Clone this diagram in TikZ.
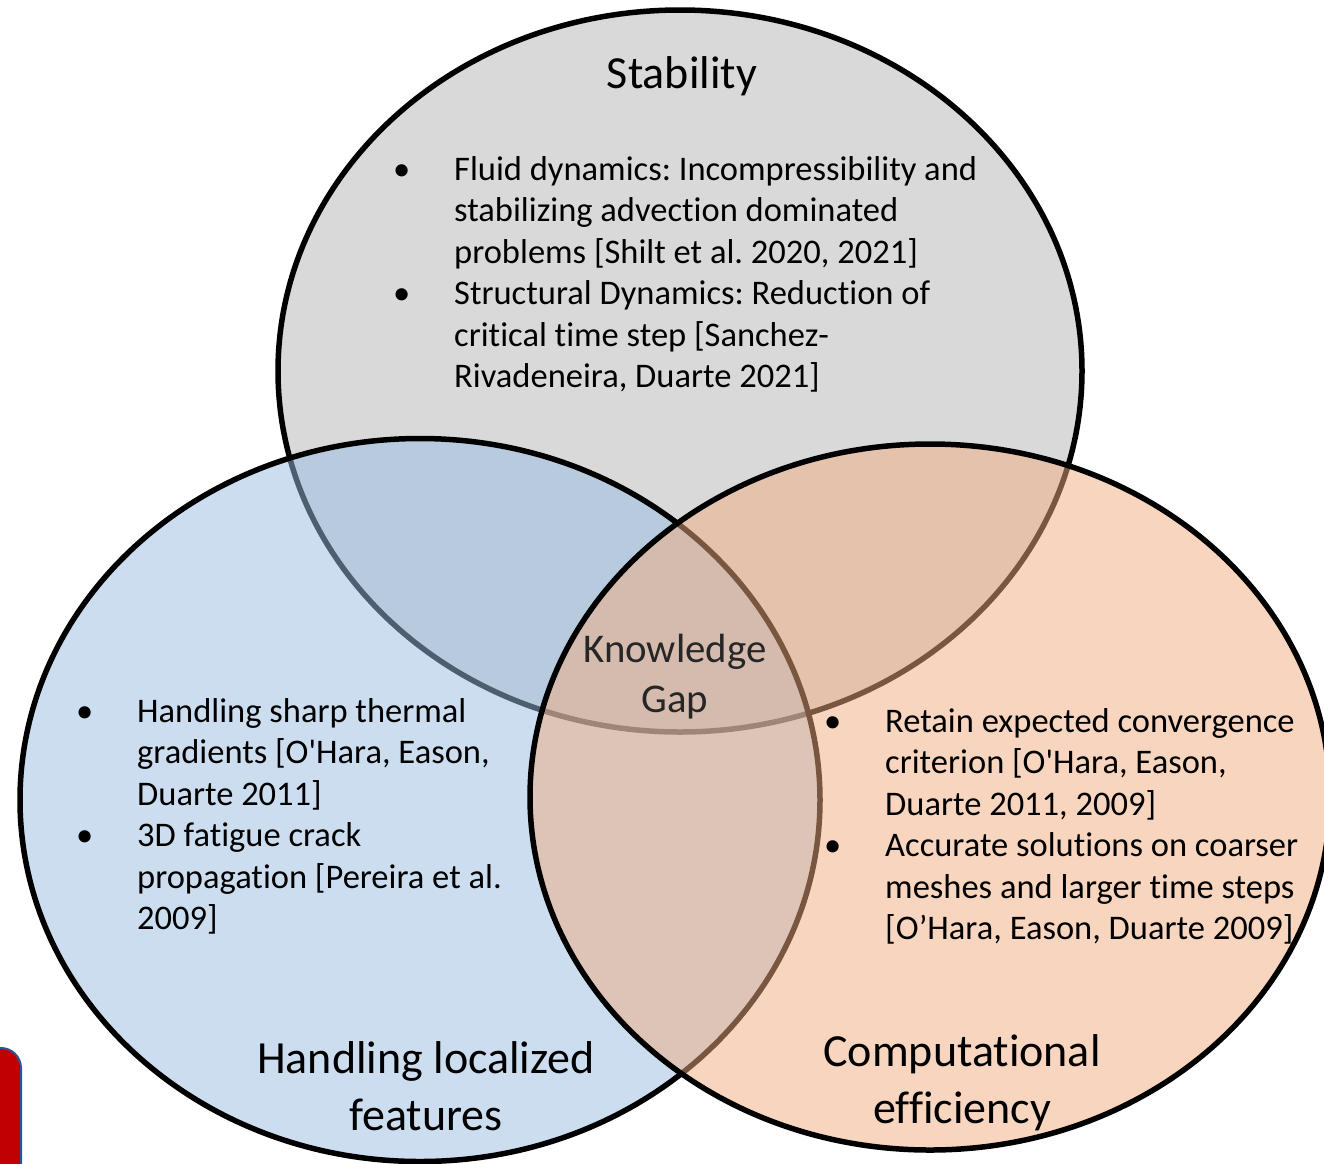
\documentclass[tikz,border=0pt]{standalone}
\usepackage{fontspec}
\setmainfont{Carlito}[Ligatures={TeXOff,NoCommon}]
\usetikzlibrary{shapes.geometric}
\definecolor{greyfill}{HTML}{D9D9D9}
\definecolor{bluefill}{RGB}{153,189,225}
\definecolor{orangefill}{RGB}{241,173,129}
\definecolor{redbox}{HTML}{C00000}
\definecolor{redborder}{HTML}{2F5597}
\frenchspacing
\begin{document}
\begin{tikzpicture}[x=1pt,y=-1pt,
  circ/.style={ellipse, draw=black, line width=5.5pt, inner sep=0pt, outer sep=0pt},
  body/.style={anchor=base west, inner sep=0pt, font=\fontsize{34.5}{41.5}\selectfont},
  title/.style={anchor=base, inner sep=0pt, font=\fontsize{46}{57}\selectfont},
  gap/.style={anchor=base, inner sep=0pt, text=black!85, font=\fontsize{40.8}{50}\selectfont},
]
\useasboundingbox (0,0) rectangle (1324,1163);
\clip (0,0) rectangle (1324,1163);
\fill[white] (0,0) rectangle (1324,1163);

% red fragment at the left border
\draw[fill=redbox, draw=redborder, line width=2pt, rounded corners=20pt] (-60,1048) rectangle (21,1220);

% ellipses
\node[circ, fill=greyfill, minimum width=804pt, minimum height=722pt] (stab) at (680,371) {};
\node[circ, fill=bluefill, fill opacity=0.5, minimum width=800pt, minimum height=723pt] (loc) at (420,800) {};
\node[circ, fill=orangefill, fill opacity=0.5, minimum width=800pt, minimum height=706pt] (eff) at (930,797) {};

% titles
\node[title] (tstab) at (682,88) {Stability};
\node[title] (tloc) at (426,1073) {\begin{tabular}[t]{@{}c@{}}Handling localized\\features\end{tabular}};
\node[title] (teff) at (962,1066) {\begin{tabular}[t]{@{}c@{}}Computational\\efficiency\end{tabular}};
\node[gap] (kgap) at (675,662) {\begin{tabular}[t]{@{}c@{}}Knowledge\\Gap\end{tabular}};

% bullet texts
\node[body] (bstab) at (393,180) {\begin{tabular}[t]{@{}p{61pt}@{}l@{}}
• & Fluid dynamics: Incompressibility and\\
  & stabilizing advection dominated\\
  & problems [Shilt et al. 2020, 2021]\\
• & Structural Dynamics: Reduction of\\
  & critical time step [Sanchez-\\
  & Rivadeneira, Duarte 2021]
\end{tabular}};
\node[body] (bloc) at (76,722) {\begin{tabular}[t]{@{}p{61pt}@{}l@{}}
• & Handling sharp thermal\\
  & gradients [O'Hara, Eason,\\
  & Duarte 2011]\\
• & 3D fatigue crack\\
  & propagation [Pereira et al.\\
  & 2009]
\end{tabular}};
\node[body] (beff) at (824,732) {\begin{tabular}[t]{@{}p{61pt}@{}l@{}}
• & Retain expected convergence\\
  & criterion [O'Hara, Eason,\\
  & Duarte 2011, 2009]\\
• & Accurate solutions on coarser\\
  & meshes and larger time steps\\
  & [O’Hara, Eason, Duarte 2009]
\end{tabular}};
\end{tikzpicture}
\end{document}
